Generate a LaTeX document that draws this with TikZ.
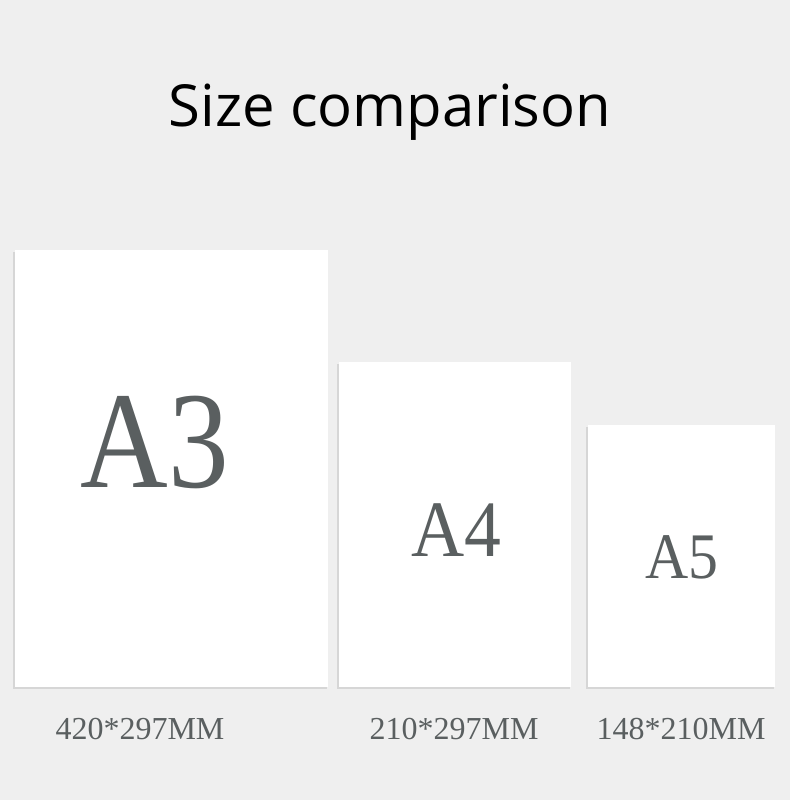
\documentclass[tikz,border=0pt]{standalone}
\usepackage{fontspec}
\setmainfont{Liberation Serif}
\newfontfamily\titlefont{Open Sans}
\definecolor{bg}{HTML}{EFEFEF}
\definecolor{shade}{HTML}{D6D6D6}
\definecolor{ink}{HTML}{5A5F60}
\begin{document}
\begin{tikzpicture}[x=1pt,y=-1pt,
  sheet/.style={fill=white,draw=none},
  shadowbox/.style={fill=shade,draw=none},
  big/.style={text=ink,inner sep=0pt,anchor=base},
  dim/.style={text=ink,inner sep=0pt,anchor=base,font=\fontsize{32}{32}\selectfont}]
\fill[bg] (0,0) rectangle (790,800);
\useasboundingbox (0,0) rectangle (790,800);
\node[inner sep=0pt,anchor=base,font=\titlefont\fontsize{58}{58}\selectfont] (title) at (390,126) {Size comparison};
% shadows
\fill[shadowbox] (13,252) rectangle (327,689);
\fill[shadowbox] (337,364) rectangle (570,689);
\fill[shadowbox] (586,427) rectangle (774,689);
% sheets
\fill[sheet] (15,250) rectangle (328,687);
\fill[sheet] (339,362) rectangle (571,687);
\fill[sheet] (588,425) rectangle (775,687);
\node[big,font=\fontsize{138}{138}\selectfont] (a3) at (155,487) {\scalebox{0.88}[1]{A3}};
\node[big,font=\fontsize{80}{80}\selectfont] (a4) at (456,556) {\scalebox{0.92}[1]{A4}};
\node[big,font=\fontsize{65}{65}\selectfont] (a5) at (682,578) {\scalebox{0.92}[1]{A5}};
\node[dim] (l3) at (140,739) {420*297MM};
\node[dim] (l4) at (454,739) {210*297MM};
\node[dim] (l5) at (681,739) {148*210MM};
\end{tikzpicture}
\end{document}
